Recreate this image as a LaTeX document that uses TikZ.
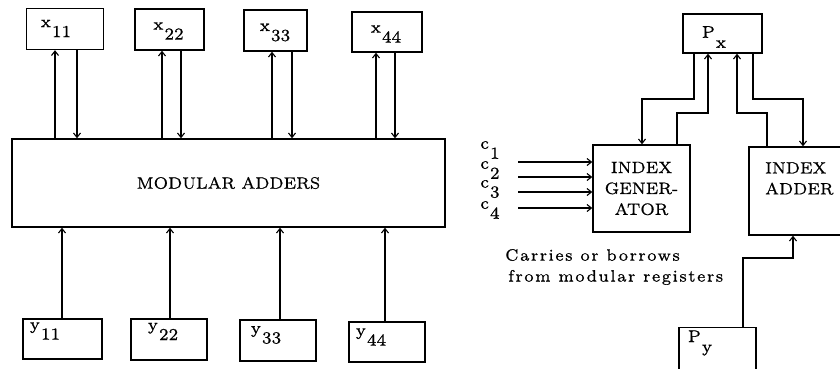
\documentclass[tikz,border=0pt]{standalone}
\usepackage{fontspec}
\usetikzlibrary{arrows.meta}
\newfontfamily\lmA{lmroman7-regular.otf}[FakeBold=0.7]
\newfontfamily\lmB{lmroman7-regular.otf}[LetterSpace=9,FakeBold=0.7]
\newcommand\lsub[2]{#1\kern1bp\raisebox{-10bp}{#2}}
\begin{document}
\begin{tikzpicture}[x=1bp,y=-1bp,
  box/.style={draw, line width=1.3bp, inner sep=0pt},
  arr/.style={line width=1.1bp, -{Straight Barb[length=4.5bp,width=7bp]}},
  txt/.style={inner sep=0pt, font=\lmA\fontsize{16.5}{21}\selectfont},
  wide/.style={inner sep=0pt, font=\lmB\fontsize{16.5}{21}\selectfont},
  sym/.style={inner sep=0pt, font=\lmA\fontsize{17}{20}\selectfont}]
\clip (0,0) rectangle (840,368);
% ---------- left part ----------
\node[box, minimum width=77bp, minimum height=41bp] (x11) at (65,29) {};
\node[box, minimum width=69bp, minimum height=41bp] (x22) at (169.5,29.5) {};
\node[box, minimum width=63bp, minimum height=41bp] (x33) at (275.5,30.5) {};
\node[box, minimum width=70bp, minimum height=40bp] (x44) at (387,32) {};
\node[sym] (tx11) at (56,28.5) {\lsub{x}{11}};
\node[sym] (tx22) at (168.5,31) {\lsub{x}{22}};
\node[sym] (tx33) at (275,32.5) {\lsub{x}{33}};
\node[sym] (tx44) at (386,34) {\lsub{x}{44}};

\node[box, minimum width=433bp, minimum height=88bp, txt] (mod) at (228.5,183) {MODULAR ADDERS};

\node[box, minimum width=79bp, minimum height=40bp] (y11) at (62.5,339) {};
\node[box, minimum width=76bp, minimum height=41bp] (y22) at (169,339.5) {};
\node[box, minimum width=76bp, minimum height=41bp] (y33) at (278,340.5) {};
\node[box, minimum width=76bp, minimum height=40bp] (y44) at (387,342) {};
\node[sym] (ty11) at (45,331) {\lsub{y}{11}};
\node[sym] (ty22) at (163,331.5) {\lsub{y}{22}};
\node[sym] (ty33) at (266,335) {\lsub{y}{33}};
\node[sym] (ty44) at (371,337) {\lsub{y}{44}};

\foreach \n/\u/\d in {x11/55/77, x22/162/181, x33/272/292, x44/376/395} {
  \coordinate (u\n) at (\u,0);
  \coordinate (d\n) at (\d,0);
  \draw[arr] (u\n |- mod.north) -- (u\n |- \n.south);
  \draw[arr] (d\n |- \n.south) -- (d\n |- mod.north);
}
\foreach \n/\u in {y11/62, y22/170, y33/280, y44/385} {
  \coordinate (c\n) at (\u,0);
  \draw[arr] (c\n |- \n.north) -- (c\n |- mod.south);
}

% ---------- right part ----------
\node[box, minimum width=79bp, minimum height=39bp] (Px) at (722.5,33.5) {};
\node[sym] (tPx) at (714,37) {\lsub{P}{x}};
\node[box, minimum width=97bp, minimum height=87bp, txt, align=center] (IG) at (641.5,188.5) {INDEX\\GENER-\\ATOR};
\node[box, minimum width=102bp, minimum height=88bp] (IA) at (800,191) {};
\node[txt, align=left, anchor=west] (tIA) at (765,178.5) {INDEX\\ADDER};
\node[box, minimum width=77bp, minimum height=50bp, anchor=north] (Py) at (717.5,327) {};
\node[sym] (tPy) at (700,343) {\lsub{P}{y}};

\coordinate (k1) at (694,99);  \coordinate (k1b) at (642,99);
\draw[arr] (Px.south -| k1) -- (k1) -- (k1b) -- (k1b |- IG.north);
\coordinate (k2) at (677,113); \coordinate (k2b) at (708,113);
\draw[arr] (k2 |- IG.north) -- (k2) -- (k2b) -- (k2b |- Px.south);
\coordinate (k3) at (767,113); \coordinate (k3b) at (737,113);
\draw[arr] (k3 |- IA.north) -- (k3) -- (k3b) -- (k3b |- Px.south);
\coordinate (k4) at (753,99);  \coordinate (k4b) at (803,99);
\draw[arr] (Px.south -| k4) -- (k4) -- (k4b) -- (k4b |- IA.north);
\coordinate (k5) at (743,258); \coordinate (k5b) at (793,258);
\draw[arr] (Py.north -| k5) -- (k5) -- (k5b) -- (k5b |- IA.south);

\node[sym] (c1) at (490,150) {\lsub{c}{1}};
\node[sym] (c2) at (490,170) {\lsub{c}{2}};
\node[sym] (c3) at (490,189) {\lsub{c}{3}};
\node[sym] (c4) at (490,210) {\lsub{c}{4}};
\foreach \i/\yy in {1/162, 2/177, 3/192, 4/208} {
  \coordinate (ci\i) at (518,\yy);
  \draw[arr] (ci\i) -- (ci\i -| IG.west);
}

\node[wide, align=left, anchor=west] (carry) at (505,267) {Carries or borrows\\\hspace*{3bp}from modular registers};
\end{tikzpicture}
\end{document}
